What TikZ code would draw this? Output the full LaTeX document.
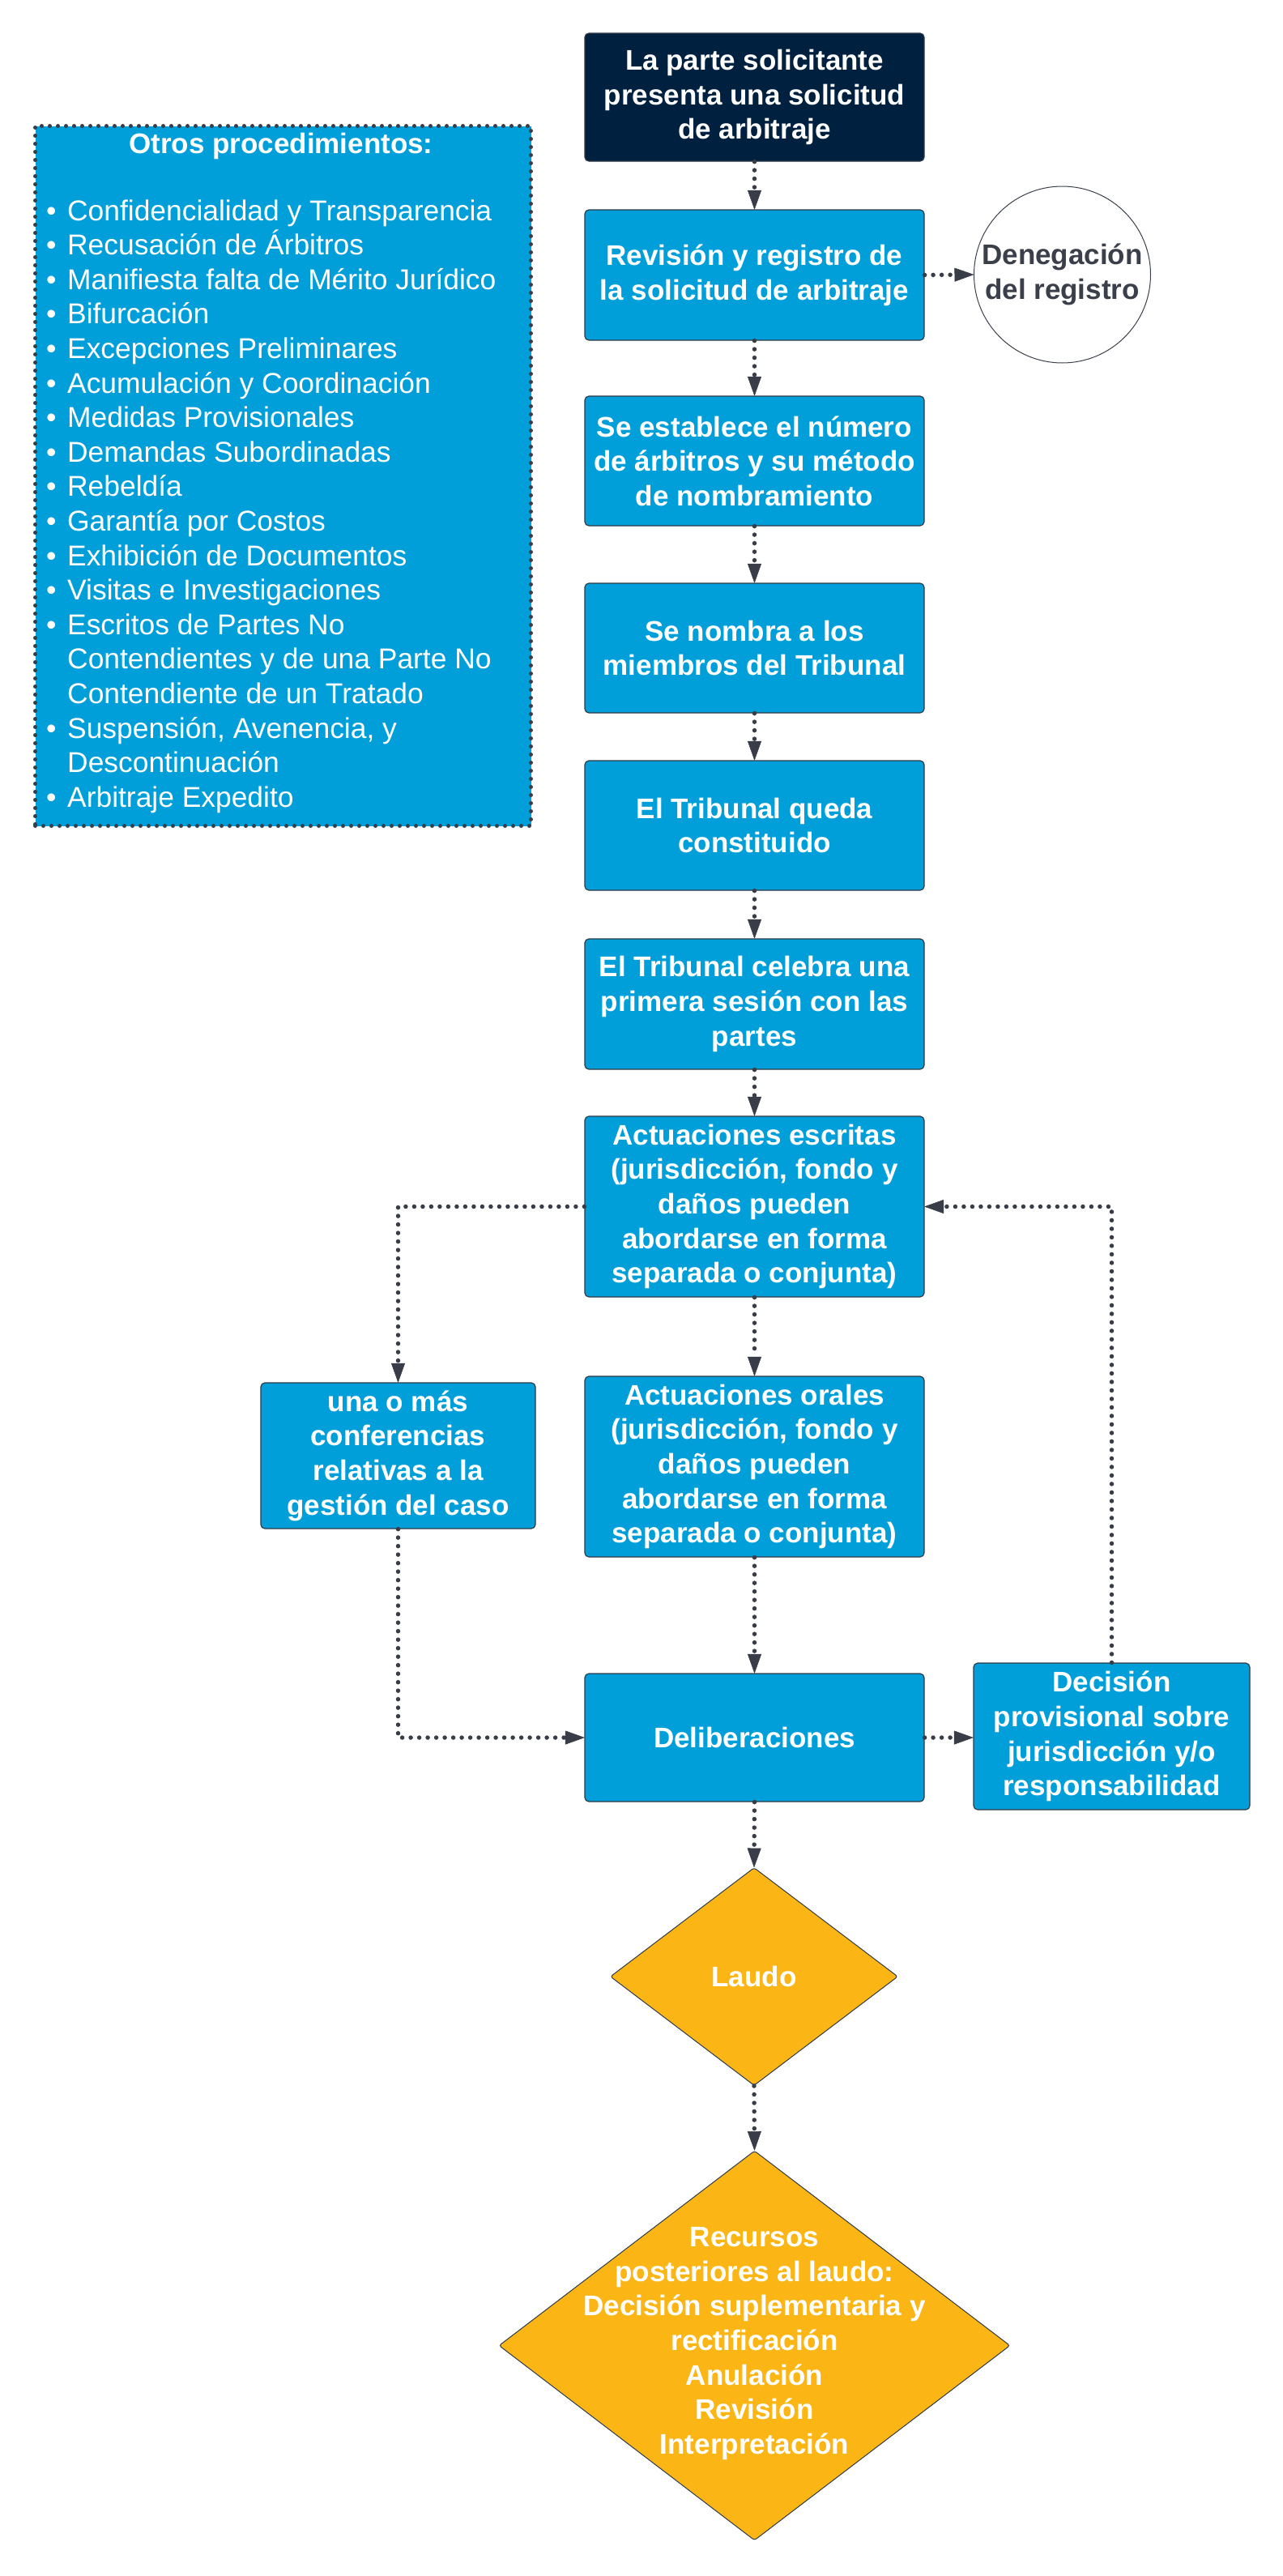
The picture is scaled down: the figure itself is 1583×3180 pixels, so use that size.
\documentclass[tikz,border=0pt]{standalone}
\usepackage{fontspec}
\setmainfont{Liberation Sans}
\usetikzlibrary{arrows.meta,shapes.geometric,calc}
\definecolor{boxblue}{HTML}{009FDA}
\definecolor{navy}{HTML}{00203F}
\definecolor{gold}{HTML}{FBB616}
\definecolor{arrowgray}{HTML}{393D48}
\definecolor{edgegray}{HTML}{2E3A48}
\definecolor{txtgray}{HTML}{3A3F4A}
\newcommand\lbul{\makebox[26pt][l]{•}}
\newcommand\lind{\hspace*{26pt}}
\begin{document}
\begin{tikzpicture}[x=1pt,y=-1pt,
  flowbox/.style={rectangle, rounded corners=5pt, fill=boxblue, draw=edgegray, line width=1.2pt,
    minimum width=419pt, minimum height=160pt, inner sep=0pt, text=white,
    font=\fontsize{35}{42.6}\selectfont\bfseries, align=center},
  navybox/.style={flowbox, fill=navy, minimum height=158pt},
  tallbox/.style={flowbox, minimum height=223pt},
  boldtxt/.style={font=\fontsize{35}{42.6}\selectfont\bfseries, align=center, inner sep=0pt},
  listtxt/.style={font=\fontsize{35.4}{42.6}\selectfont, text=white, inner sep=0pt, anchor=base west},
  decision/.style={diamond, draw=edgegray, line width=1pt, fill=gold, inner sep=0pt, rounded corners=3pt},
  conn/.style={draw=arrowgray, line width=5.5pt, dash pattern=on 0pt off 10.5pt, line cap=round,
    -{Triangle[length=24pt,width=17pt,line width=0.5pt,round=false]}}
]
\fill[white] (0,0) rectangle (1583,3180);
\useasboundingbox (0,0) rectangle (1583,3180);

% left box of other procedures
\node[rectangle, fill=boxblue, draw=arrowgray, line width=5pt, dash pattern=on 0pt off 10pt, line cap=round,
  minimum width=612pt, minimum height=864pt, anchor=north west, inner sep=0pt] (otros) at (41,153) {};
\node[boldtxt, text=white, anchor=base] (otrostitle) at (347,189) {Otros procedimientos:};
\foreach \t [count=\i] in {
  \lbul Confidencialidad y Transparencia,
  \lbul Recusación de Árbitros,
  \lbul Manifiesta falta de Mérito Jurídico,
  \lbul Bifurcación,
  \lbul Excepciones Preliminares,
  \lbul Acumulación y Coordinación,
  \lbul Medidas Provisionales,
  \lbul Demandas Subordinadas,
  \lbul Rebeldía,
  \lbul Garantía por Costos,
  \lbul Exhibición de Documentos,
  \lbul Visitas e Investigaciones,
  \lbul Escritos de Partes No,
  \lind Contendientes y de una Parte No,
  \lind Contendiente de un Tratado,
  {\lbul Suspensión, Avenencia, y},
  \lind Descontinuación,
  \lbul Arbitraje Expedito}
  \node[listtxt] (li\i) at (57,{272+(\i-1)*42.6}) {\t};

% main column
\node[navybox] (b1) at (931.5,120) {La parte solicitante\\presenta una solicitud\\de arbitraje};
\node[flowbox, minimum height=161pt] (b2) at (931.5,339.5) {Revisión y registro de\\la solicitud de arbitraje};
\node[circle, draw=txtgray, line width=1pt, fill=white, minimum size=218pt, inner sep=0pt, text=txtgray, boldtxt] (den) at (1311.5,339) {Denegación\\del registro};
\node[flowbox] (b3) at (931.5,569) {Se establece el número\\de árbitros y su método\\de nombramiento};
\node[flowbox] (b4) at (931.5,800) {Se nombra a los\\miembros del Tribunal};
\node[flowbox] (b5) at (931.5,1019) {El Tribunal queda\\constituido};
\node[flowbox, minimum height=161pt] (b6) at (931.5,1239.5) {El Tribunal celebra una\\primera sesión con las\\partes};
\node[tallbox] (b7) at (931.5,1489.5) {Actuaciones escritas\\(jurisdicción, fondo y\\daños pueden\\abordarse en forma\\separada o conjunta)};
\node[tallbox] (b8) at (931.5,1810.5) {Actuaciones orales\\(jurisdicción, fondo y\\daños pueden\\abordarse en forma\\separada o conjunta)};
\node[flowbox, minimum width=339pt, minimum height=180pt] (conf) at (491.5,1797) {una o más\\conferencias\\relativas a la\\gestión del caso};
\node[flowbox, minimum height=158pt] (delib) at (931.5,2145) {Deliberaciones};
\node[flowbox, minimum width=341pt, minimum height=181pt] (dec) at (1372.5,2143.5) {Decisión\\provisional sobre\\jurisdicción y/o\\responsabilidad};

\node[decision, minimum width=355pt, minimum height=269pt] (laudo) at (931,2440) {};
\node[boldtxt, text=white] (laudotxt) at (laudo.center) {Laudo};
\node[decision, minimum width=631pt, minimum height=481pt] (recursos) at (931.5,2895.5) {};
\node[boldtxt, text=white] (recursostxt) at (931.5,2893) {Recursos\\posteriores al laudo:\\Decisión suplementaria y\\rectificación\\Anulación\\Revisión\\Interpretación};

% connectors
\draw[conn] (b1.south) -- (b2.north);
\draw[conn] (b2.east) -- (den.west);
\draw[conn] (b2.south) -- (b3.north);
\draw[conn] (b3.south) -- (b4.north);
\draw[conn] (b4.south) -- (b5.north);
\draw[conn] (b5.south) -- (b6.north);
\draw[conn] (b6.south) -- (b7.north);
\draw[conn] (b7.south) -- (b8.north);
\draw[conn] (b8.south) -- (delib.north);
\draw[conn] (b7.west) -| (conf.north);
\draw[conn] (conf.south) |- (delib.west);
\draw[conn] (delib.east) -- (delib.east -| dec.west);
\draw[conn] (dec.north) |- (b7.east);
\draw[conn] (delib.south) -- (laudo.north);
\draw[conn] (laudo.south) -- (recursos.north);
\end{tikzpicture}
\end{document}
